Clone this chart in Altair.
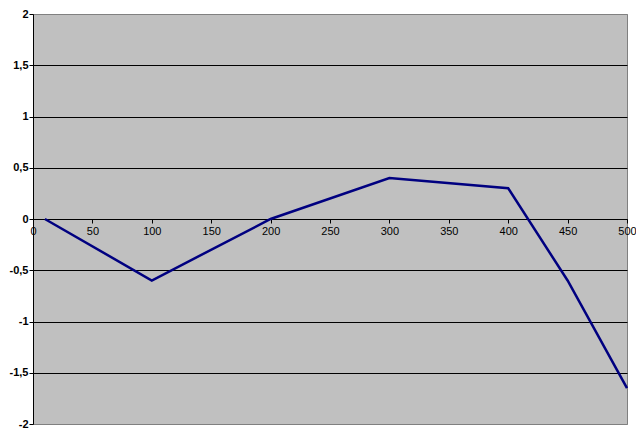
import altair as alt
import pandas as pd

x_vals = [10, 100, 200, 300, 400, 450, 500]
y_vals = [0, -0.6, 0, 0.4, 0.3, -0.6, -1.65]
x_ticks = [0, 50, 100, 150, 200, 250, 300, 350, 400, 450, 500]
y_ticks = [-2, -1.5, -1, -0.5, 0, 0.5, 1, 1.5, 2]

df = pd.DataFrame({"x": x_vals, "y": y_vals})

W, H = 594, 410

chart = alt.Chart(df).mark_line(color="#000080", strokeWidth=2.5).encode(
    x=alt.X("x:Q",
            scale=alt.Scale(domain=[0, 500], nice=False, zero=False),
            axis=alt.Axis(values=x_ticks, offset=-H / 2, grid=False, title=None,
                          domainColor="black", tickColor="black", tickSize=4,
                          labelFont="Liberation Sans", labelFontSize=11, labelColor="black",
                          labelPadding=2, labelFlush=False, labelOverlap=False)),
    y=alt.Y("y:Q",
            scale=alt.Scale(domain=[-2, 2], nice=False, zero=False),
            axis=alt.Axis(values=y_ticks, grid=True, title=None,
                          gridColor={"condition": {"test": "abs(datum.value) == 2", "value": "#808080"}, "value": "black"},
                          gridOpacity=1, gridWidth=1,
                          domainColor="black", tickColor="black", tickSize=4,
                          labelFont="Liberation Sans", labelFontSize=11, labelFontWeight=700,
                          labelColor="black", labelPadding=1, labelOverlap=False,
                          labelExpr="replace(toString(datum.value), '.', ',')")),
).properties(
    width=W, height=H,
    background="white",
    autosize=alt.AutoSizeParams(type="none"),
    padding={"left": 25, "top": 6, "right": 9, "bottom": 4},
).configure_view(
    fill="#C0C0C0", stroke="#808080", strokeWidth=1
)

chart.save("out.html", embed_options={"renderer": "svg", "actions": False})
